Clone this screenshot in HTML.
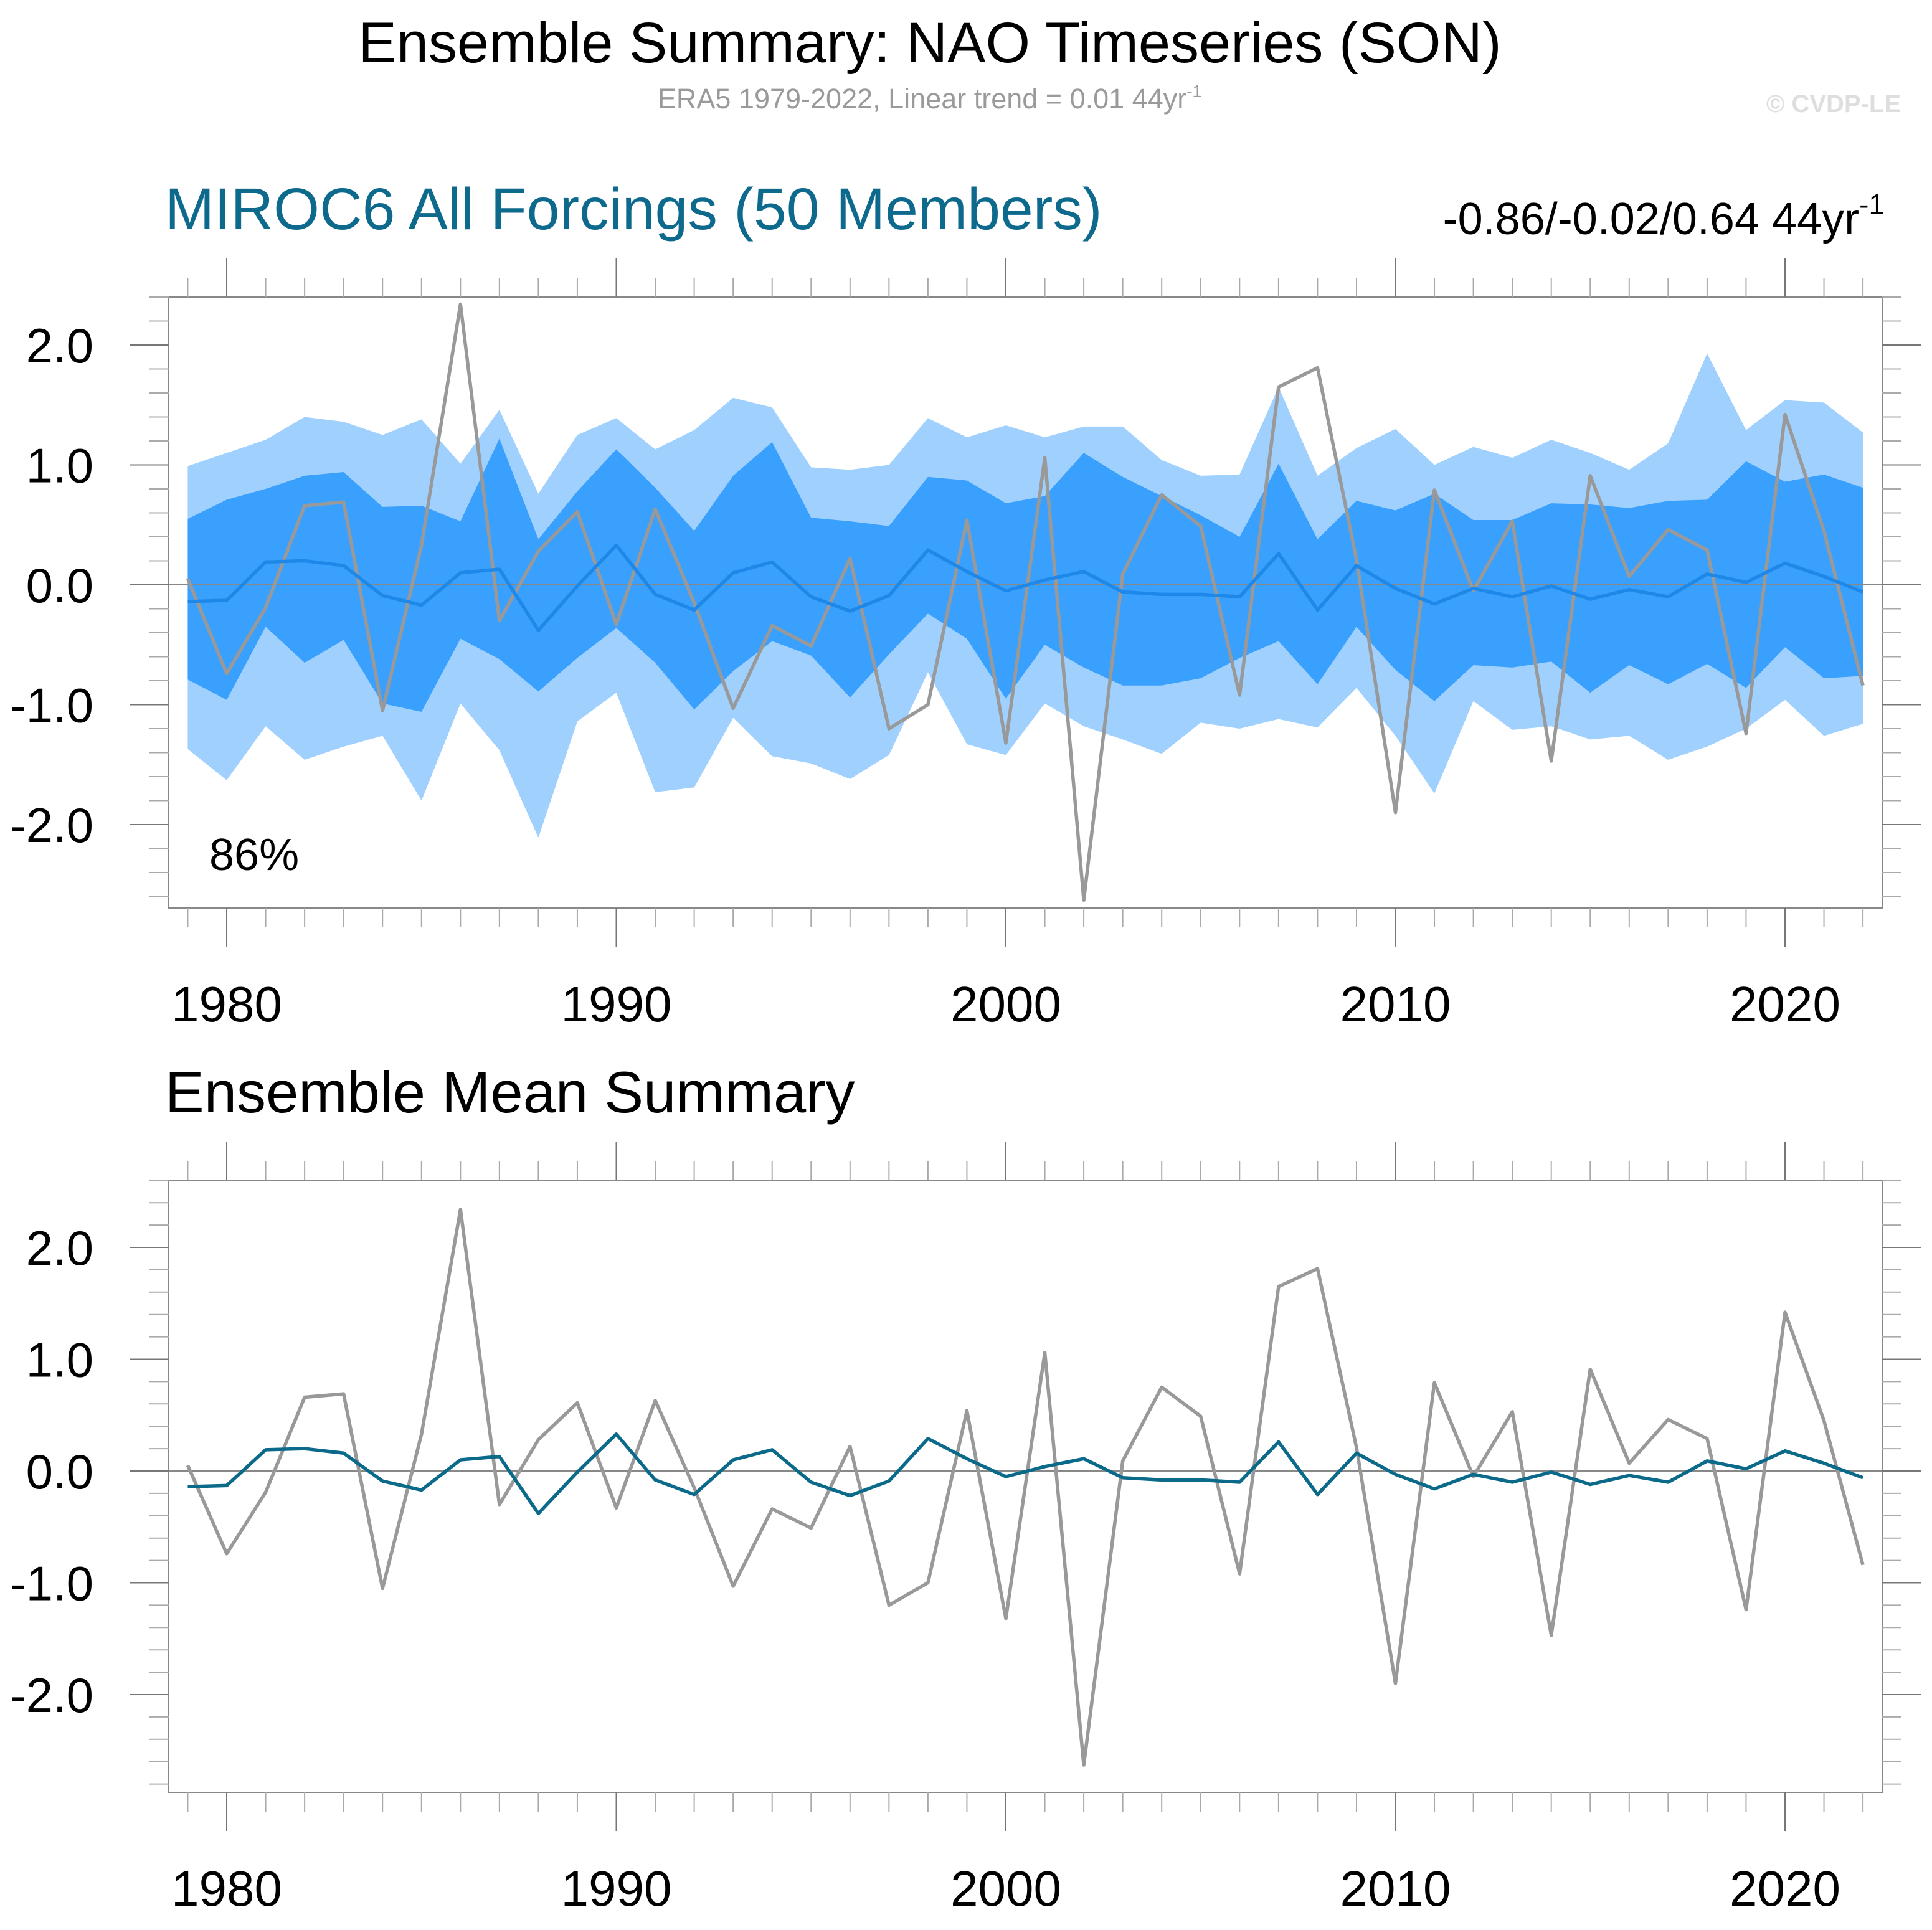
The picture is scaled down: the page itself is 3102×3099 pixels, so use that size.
<!DOCTYPE html>
<html><head><meta charset="utf-8"><style>
html,body{margin:0;padding:0;background:#fff;}
svg text{font-family:"Liberation Sans",Arial,sans-serif;}
</style></head><body>
<svg id="chart" width="3102" height="3094" viewBox="0 0 3102 3094" xmlns="http://www.w3.org/2000/svg">
<rect width="3102" height="3094" fill="#fff"/>
<text x="1493" y="100" font-size="92" text-anchor="middle" fill="#000">Ensemble Summary: NAO Timeseries (SON)</text>
<text x="1493" y="174" font-size="45" text-anchor="middle" fill="#9a9a9a">ERA5 1979-2022, Linear trend = 0.01 44yr<tspan font-size="28" dy="-18">-1</tspan></text>
<text x="3052" y="180" font-size="40" font-weight="bold" text-anchor="end" fill="#dedede">© CVDP-LE</text>
<text x="265" y="368" font-size="95" fill="#0e6a8c">MIROC6 All Forcings (50 Members)</text>
<text x="3026" y="376" font-size="72" text-anchor="end" fill="#000">-0.86/-0.02/0.64 44yr<tspan font-size="46" dy="-32">-1</tspan></text>
<text x="265" y="1786" font-size="94" fill="#000">Ensemble Mean Summary</text>
<g id="top"></g>
<g id="bot"></g>
</svg>
<script>
const years=[1979,1980,1981,1982,1983,1984,1985,1986,1987,1988,1989,1990,1991,1992,1993,1994,1995,1996,1997,1998,1999,2000,2001,2002,2003,2004,2005,2006,2007,2008,2009,2010,2011,2012,2013,2014,2015,2016,2017,2018,2019,2020,2021,2022];
const era5=[0.05,-0.74,-0.19,0.66,0.69,-1.05,0.33,2.34,-0.30,0.28,0.61,-0.33,0.63,-0.15,-1.03,-0.34,-0.51,0.22,-1.20,-1.00,0.54,-1.32,1.06,-2.63,0.09,0.75,0.49,-0.92,1.65,1.81,0.21,-1.90,0.79,-0.05,0.53,-1.47,0.91,0.07,0.46,0.29,-1.24,1.42,0.45,-0.84];
const ensMean=[-0.14,-0.13,0.19,0.20,0.16,-0.09,-0.17,0.10,0.13,-0.38,-0.01,0.33,-0.08,-0.21,0.10,0.19,-0.10,-0.22,-0.09,0.29,0.11,-0.05,0.04,0.11,-0.06,-0.08,-0.08,-0.10,0.26,-0.21,0.16,-0.03,-0.16,-0.03,-0.10,-0.01,-0.12,-0.04,-0.10,0.09,0.02,0.18,0.07,-0.06];
const outerHi=[0.99,1.10,1.21,1.40,1.36,1.25,1.38,1.01,1.46,0.76,1.25,1.39,1.13,1.29,1.56,1.48,0.98,0.96,1.00,1.39,1.23,1.33,1.23,1.32,1.32,1.04,0.91,0.92,1.65,0.91,1.14,1.30,1.00,1.15,1.06,1.21,1.10,0.96,1.18,1.93,1.29,1.54,1.52,1.27];
const innerHi=[0.55,0.71,0.80,0.91,0.94,0.65,0.66,0.53,1.22,0.38,0.78,1.13,0.81,0.45,0.91,1.19,0.56,0.53,0.49,0.90,0.87,0.68,0.74,1.10,0.90,0.74,0.58,0.40,1.01,0.38,0.70,0.62,0.76,0.54,0.54,0.68,0.67,0.64,0.70,0.71,1.03,0.86,0.92,0.81];
const innerLo=[-0.79,-0.96,-0.35,-0.65,-0.46,-0.99,-1.06,-0.45,-0.62,-0.89,-0.61,-0.36,-0.65,-1.04,-0.72,-0.47,-0.59,-0.94,-0.58,-0.24,-0.45,-0.95,-0.50,-0.69,-0.84,-0.84,-0.78,-0.61,-0.47,-0.83,-0.35,-0.71,-0.97,-0.67,-0.69,-0.64,-0.90,-0.67,-0.83,-0.66,-0.86,-0.52,-0.78,-0.76];
const outerLo=[-1.37,-1.63,-1.18,-1.46,-1.35,-1.26,-1.80,-0.99,-1.38,-2.11,-1.14,-0.90,-1.73,-1.69,-1.11,-1.43,-1.49,-1.62,-1.42,-0.73,-1.33,-1.42,-0.99,-1.18,-1.29,-1.41,-1.15,-1.20,-1.12,-1.19,-0.86,-1.26,-1.74,-0.97,-1.21,-1.18,-1.29,-1.26,-1.46,-1.35,-1.20,-0.96,-1.26,-1.16];
const yTickLabels=["2.0","1.0","0.0","-1.0","-2.0"];
const yTickValues=[2,1,0,-1,-2];
const xTickYears=[1980,1990,2000,2010,2020];

const NS="http://www.w3.org/2000/svg";
function mk(parent,tag,attrs){const e=document.createElementNS(NS,tag);for(const k in attrs)e.setAttribute(k,attrs[k]);parent.appendChild(e);return e;}
const X0=271,X1=3022;
function xs(yr){return 364+(yr-1980)*62.55;}

function panel(g,top,bot,y0,pu,vmin,vmax,bands,meanColor,meanName,pct){
  const ys=v=>y0-v*pu;
  if(bands){
    const outer=years.map((y,i)=>xs(y)+','+ys(outerHi[i])).concat(years.slice().reverse().map((y,j)=>{const i=years.length-1-j;return xs(y)+','+ys(outerLo[i]);})).join(' ');
    const p1=mk(g,'polygon',{points:outer,fill:'#a0d0fe'});
    
    
    const inner=years.map((y,i)=>xs(y)+','+ys(innerHi[i])).concat(years.slice().reverse().map((y,j)=>{const i=years.length-1-j;return xs(y)+','+ys(innerLo[i]);})).join(' ');
    const p2=mk(g,'polygon',{points:inner,fill:'#3aa0fe'});
    
    
  }
  const z=mk(g,'line',{x1:X0,x2:X1,y1:ys(0),y2:ys(0),stroke:'#888','stroke-width':2});
  
  
  const l1=mk(g,'polyline',{points:years.map((y,i)=>xs(y)+','+ys(era5[i])).join(' '),fill:'none',stroke:'#999','stroke-width':5.5,'stroke-linejoin':'round'});
  
  
  const l2=mk(g,'polyline',{points:years.map((y,i)=>xs(y)+','+ys(ensMean[i])).join(' '),fill:'none',stroke:meanColor,'stroke-width':5.5,'stroke-linejoin':'round'});
  
  
  const box=mk(g,'rect',{x:X0,y:top,width:X1-X0,height:bot-top,fill:'none',stroke:'#888','stroke-width':2});
  
  
  for(let k=Math.ceil(vmin*5);k<=Math.floor(vmax*5);k++){
    const v=k/5,yy=ys(v),major=(k%5===0),len=major?62:31;
    mk(g,'line',{x1:X0-len,x2:X0,y1:yy,y2:yy,stroke:major?'#777':'#aaa','stroke-width':2});
    mk(g,'line',{x1:X1,x2:X1+len,y1:yy,y2:yy,stroke:major?'#777':'#aaa','stroke-width':2});
  }
  yTickValues.forEach((v,i)=>{
    const t=mk(g,'text',{x:150,y:ys(v)+28,'font-size':78,'text-anchor':'end',fill:'#000'});
    t.textContent=yTickLabels[i];
    
    
  });
  years.forEach(y=>{
    const major=(y%10===0),len=major?62:31;
    mk(g,'line',{x1:xs(y),x2:xs(y),y1:top-len,y2:top,stroke:major?'#777':'#aaa','stroke-width':2});
    mk(g,'line',{x1:xs(y),x2:xs(y),y1:bot,y2:bot+len,stroke:major?'#777':'#aaa','stroke-width':2});
  });
  xTickYears.forEach(y=>{
    const t=mk(g,'text',{x:xs(y),y:bot+182,'font-size':80,'text-anchor':'middle',fill:'#000'});
    t.textContent=String(y);
    
    
  });
  if(pct){
    const t=mk(g,'text',{x:336,y:1397,'font-size':72,fill:'#000'});
    t.textContent=pct;
    
    
  }
}
panel(document.getElementById('top'),477,1458,939,192.5,-2.7,2.4,true,'#1e88e8','ensemble-mean-line','86%');
panel(document.getElementById('bot'),1895,2878,2362,179.5,-2.87,2.6,false,'#0b6a8a','ensemble-mean-line',null);
</script>
</body></html>
